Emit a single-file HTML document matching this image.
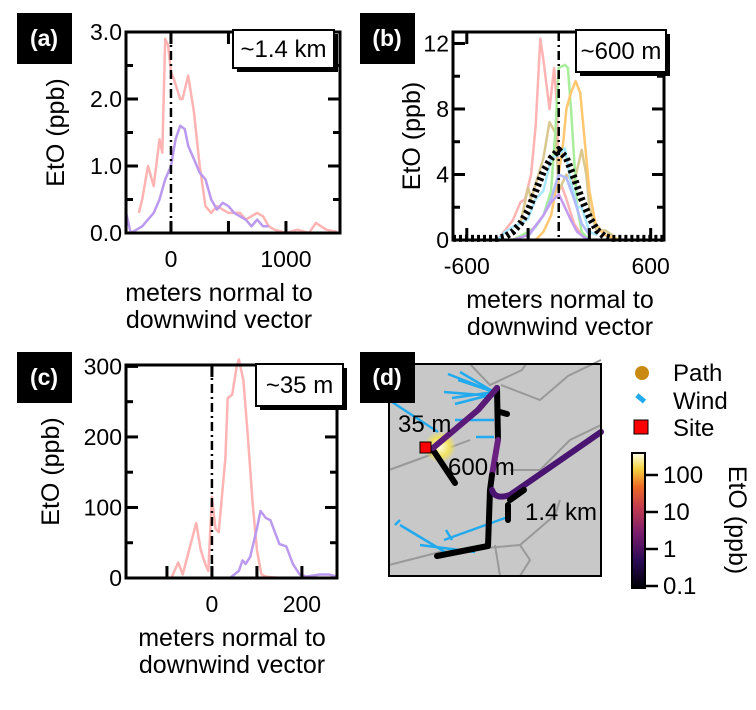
<!DOCTYPE html>
<html><head><meta charset="utf-8"><style>
body{margin:0;background:#fff;}
svg{display:block;font-family:"Liberation Sans",Arial,sans-serif;}
</style></head><body>
<svg id="fig" width="756" height="710" viewBox="0 0 756 710"></svg>
<script>
// ---- data panel (a) ----
const aPinkX=[-280,-250,-200,-150,-100,-75,-50,-25,0,25,80,100,150,200,250,300,350,400,500,600,650,750,800,850,900,1000,1100,1200,1260,1350,1440];
const aPinkY=[0.3,0.5,1.0,0.7,1.4,1.2,2.9,2.8,2.4,2.3,2.0,2.0,2.35,1.8,1.0,0.4,0.3,0.4,0.3,0.3,0.2,0.3,0.25,0.1,0.05,0.0,0.05,0.0,0.15,0.05,0.02];
const aPurpX=[-390,-350,-300,-250,-200,-150,-100,-50,0,40,80,120,150,200,250,300,350,400,450,500,550,600,650,700,750,800,850];
const aPurpY=[0.3,0.0,0.05,0.1,0.2,0.3,0.5,0.8,1.0,1.4,1.6,1.55,1.3,1.1,0.9,0.8,0.5,0.35,0.45,0.4,0.3,0.25,0.2,0.1,0.2,0.1,0.1];
const aYTicks=[0,1,2,3], aYLabels=["0.0","1.0","2.0","3.0"], aXTicks=[0,500,1000], aXLabels=["0","","1000"];
// ---- data panel (b) ----
const bPinkX=[-400,-300,-250,-220,-180,-150,-120,-100,-60,-30,-10,0,20,50,100,150,200];
const bPinkY=[0,1.2,2.3,2.5,4,7,12.3,11,8,10.5,8,3,3.3,2.5,1,0.3,0];
const bGreenX=[-300,-200,-150,-100,-50,-20,0,40,60,80,100,120,150,200];
const bGreenY=[0,0.5,0.8,1.5,3,7,10.5,10.7,10.5,8,5,2,0.5,0];
const bOrangeX=[-150,-100,-50,0,30,50,80,110,140,170,200,240,300,400];
const bOrangeY=[0,0.5,1.5,4,6,8,9,9.7,9,6,3,1,0.3,0];
const bTanX=[-250,-200,-180,-100,-60,-20,0,50,100,150,180,200,250,300,350];
const bTanY=[1,3.2,2.5,5,7.2,6.5,3,4,3.5,5.5,4,2,0.5,0.6,0.3];
const bCyanX=[-400,-350,-300,-250,-200,-150,-100,-50,0,40,80,120,150,200,250];
const bCyanY=[0,0.5,0.8,1,1.3,2.5,3,5,5.2,5.6,3.5,2,2,0.5,0.3];
const bBlueX=[-200,-100,-50,0,50,100,150,200];
const bBlueY=[0.2,1.5,2.5,4,3.8,2.5,1,0.3];
const bPurpX=[-300,-200,-100,-50,0,40,80,120,160,200];
const bPurpY=[0,0.3,1.5,2.3,2.8,2,1.2,0.5,0.2,0];
const bMeanX=[-690,-400,-350,-300,-250,-200,-150,-100,-50,0,50,100,150,200,250,300,350,690];
const bMeanY=[0.1,0.1,0.2,0.5,1.0,1.8,3.0,4.2,5.0,5.5,5.0,3.8,2.5,1.4,0.6,0.2,0.1,0.1];
const bYTicks=[0,4,8,12], bXTicks=[-600,600];
// ---- data panel (c) ----
const cPinkX=[-190,-90,-75,-65,-35,-25,-15,-8,0,8,15,30,35,45,55,60,70,80,90,100,110,120,150,278];
const cPinkY=[0,0,22,5,78,40,20,10,115,70,65,170,255,260,300,310,280,200,110,40,5,2,0,0];
const cPurpX=[40,60,68,75,85,100,108,120,130,140,150,165,180,195,210,240,260,278];
const cPurpY=[0,10,25,20,30,70,95,85,82,65,48,45,20,5,2,5,5,2];
const cYTicks=[0,100,200,300], cXTicks=[0,200];
// ---- colorbar ----
const cbTicks=[0.1,1,10,100];

const NS="http://www.w3.org/2000/svg";
const svg=document.getElementById('fig');
function el(tag,attrs,parent){const e=document.createElementNS(NS,tag);for(const k in attrs)e.setAttribute(k,attrs[k]);(parent||svg).appendChild(e);return e;}
function txt(s,attrs,parent){const e=el('text',attrs,parent);e.textContent=s;return e;}

function panel(p){
  const g=el('g',{});
  
  
  const sx=v=>p.x0+(v-p.xmin)/(p.xmax-p.xmin)*(p.x1-p.x0);
  const sy=v=>p.y1-(v-p.ymin)/(p.ymax-p.ymin)*(p.y1-p.y0);
  p.series.forEach(s=>{
    const d=s.x.map((v,i)=>(i?'L':'M')+sx(v).toFixed(1)+','+sy(s.y[i]).toFixed(1)).join('');
    const path=el('path',{d:d,fill:'none',stroke:s.c,'stroke-width':s.w||2.5,'stroke-dasharray':s.dash||'none','stroke-linejoin':'round'},g);
    
    
  });
  const zl=el('line',{x1:sx(0),x2:sx(0),y1:p.y0,y2:p.y1,stroke:'#000','stroke-width':2.5,'stroke-dasharray':'9,4,2,4'},g);
  
  
  const box=el('rect',{x:p.x0,y:p.y0,width:p.x1-p.x0,height:p.y1-p.y0,fill:'none',stroke:'#000','stroke-width':3},g);
  
  
  p.yt.forEach((v,i)=>{
    const y=sy(v);
    el('line',{x1:p.x0,x2:p.x0+12,y1:y,y2:y,stroke:'#000','stroke-width':3},g);
    el('line',{x1:p.x1,x2:p.x1-12,y1:y,y2:y,stroke:'#000','stroke-width':3},g);
    if(i<p.yt.length-1){const ym=sy((v+p.yt[i+1])/2);
      el('line',{x1:p.x0,x2:p.x0+7,y1:ym,y2:ym,stroke:'#000','stroke-width':3},g);
      el('line',{x1:p.x1,x2:p.x1-7,y1:ym,y2:ym,stroke:'#000','stroke-width':3},g);}
    const t=txt(p.yl?p.yl[i]:String(v),{x:p.x0-4,y:y+8,'text-anchor':'end','font-size':23},g);
    
    
  });
  p.xt.forEach((v,i)=>{
    const x=sx(v);
    el('line',{x1:x,x2:x,y1:p.y1,y2:p.y1-12,stroke:'#000','stroke-width':3},g);
    el('line',{x1:x,x2:x,y1:p.y0,y2:p.y0+12,stroke:'#000','stroke-width':3},g);
    const lab=p.xl?p.xl[i]:String(v);
    if(lab){const t=txt(lab,{x:x,y:p.y1+34,'text-anchor':'middle','font-size':23},g);
      
      }
  });
  (p.xminor||[]).forEach(v=>{const x=sx(v);el('line',{x1:x,x2:x,y1:p.y1,y2:p.y1-12,stroke:'#000','stroke-width':3},g);});
  const lb=p.lbox;
  el('rect',{x:lb[0]+4,y:lb[1]+4,width:lb[2],height:lb[3],fill:'#000'},g);
  const r=el('rect',{x:lb[0],y:lb[1],width:lb[2],height:lb[3],fill:'#fff',stroke:'#000','stroke-width':2},g);
  
  
  txt(p.ltxt,{x:lb[0]+lb[2]/2,y:lb[1]+lb[3]/2+8,'text-anchor':'middle','font-size':24},g);
  el('rect',{x:p.tag[0],y:p.tag[1],width:55,height:51,fill:'#000'},g);
  const tg=txt(p.tagt,{x:p.tag[0]+27,y:p.tag[1]+33,'text-anchor':'middle','font-size':23,'font-weight':'bold',fill:'#fff'},g);
  
  
  const cy=(p.y0+p.y1)/2;
  const yt=txt('EtO (ppb)',{x:0,y:0,'text-anchor':'middle','font-size':25,transform:`translate(${p.ytx},${cy}) rotate(-90)`},g);
  
  
  const xc=p.xtc;
  const x1=txt('meters normal to',{x:xc,y:p.y1+68,'text-anchor':'middle','font-size':25},g);
  
  
  txt('downwind vector',{x:xc,y:p.y1+95,'text-anchor':'middle','font-size':25},g);
}

panel({name:'panel-a',x0:126,x1:340,y0:32,y1:233,xmin:-391,xmax:1470,ymin:0,ymax:3.0,
  yt:aYTicks,yl:aYLabels,xt:aXTicks,xl:aXLabels,lbox:[233,30,101,38],ltxt:'~1.4 km',tag:[17,13],tagt:'(a)',ytx:64,xtc:219,
  series:[{x:aPinkX,y:aPinkY,c:'#ffb3b3',n:'series-pink'},{x:aPurpX,y:aPurpY,c:'#bb99ee',n:'series-purple'}]});
panel({name:'panel-b',x0:453,x1:664,y0:32,y1:240,xmin:-690,xmax:687,ymin:0,ymax:12.7,
  yt:bYTicks,xt:bXTicks,xminor:[-200,200],lbox:[576,30,90,42],ltxt:'~600 m',tag:[360,13],tagt:'(b)',ytx:420,xtc:560,
  series:[{x:bPinkX,y:bPinkY,c:'#ffb3b3',n:'series-pink'},{x:bTanX,y:bTanY,c:'#d8c890',n:'series-tan'},
  {x:bGreenX,y:bGreenY,c:'#a8ee9a',n:'series-green'},{x:bOrangeX,y:bOrangeY,c:'#ffc870',n:'series-orange'},
  {x:bCyanX,y:bCyanY,c:'#a8e8ff',n:'series-cyan'},{x:bBlueX,y:bBlueY,c:'#b0b8ff',n:'series-blue'},
  {x:bPurpX,y:bPurpY,c:'#c39cf0',n:'series-purple'},{x:bMeanX,y:bMeanY,c:'#000',w:7,dash:'3,3',n:'series-mean'}]});
panel({name:'panel-c',x0:126,x1:337,y0:365,y1:578,xmin:-191,xmax:278,ymin:0,ymax:302,
  yt:cYTicks,xt:cXTicks,xminor:[-100,100],lbox:[256,364,87,42],ltxt:'~35 m',tag:[17,352],tagt:'(c)',ytx:59,xtc:232,
  series:[{x:cPinkX,y:cPinkY,c:'#ffb3b3',n:'series-pink'},{x:cPurpX,y:cPurpY,c:'#bb99ee',n:'series-purple'}]});

// ---- map panel (d) ----
const m=el('g',{});


el('rect',{x:389,y:364,width:212,height:212,fill:'#c8c8c8'},m);
const defs=el('defs',{},m);
const rg=el('radialGradient',{id:'glow'},defs);
el('stop',{offset:'0','stop-color':'#ffffe0'},rg);el('stop',{offset:'0.6','stop-color':'#f0e060'},rg);el('stop',{offset:'1','stop-color':'#f0e060','stop-opacity':'0'},rg);
const lg=el('linearGradient',{id:'cb',x1:0,y1:1,x2:0,y2:0},defs);
[['0','#000004'],['0.2','#2a0a55'],['0.4','#781c6d'],['0.6','#c43c4e'],['0.75','#ed6925'],['0.88','#f4d03f'],['1','#fcffe4']].forEach(s=>el('stop',{offset:s[0],'stop-color':s[1]},lg));
['M470,364 L490,385 L522,370 L526,364','M389,470 L430,455 L470,440','M501,385 L540,400 L568,376 L601,360','M510,470 L540,470 L570,440 L601,425',
 'M389,565 L440,552 L520,545 L555,515 L560,500','M495,545 L500,576','M520,545 L530,560 L520,576'].forEach(d=>{
  const r=el('path',{d:d,fill:'none',stroke:'#999','stroke-width':2},m);
  
  });
['M455,404 L494,394','M452,398 L494,392','M458,380 L494,392','M448,374 L494,392','M460,372 L494,392','M444,392 L494,396','M392,402 L438,432','M455,420 L494,420',
 'M476,437 L494,437','M400,525 L450,555','M420,545 L475,552','M444,540 L505,518','M395,525 L400,520','M446,530 L452,540'].forEach(d=>{
  const w=el('path',{d:d,fill:'none',stroke:'#22aaee','stroke-width':2.5},m);
  
  });
el('circle',{cx:440,cy:447,r:16,fill:'url(#glow)'},m);
[['M433,450 L455,483','#000'],['M497,388 L498,440','#000'],['M498,440 L492,475','#6a2080'],['M492,475 L490,490 L488,546','#000'],
 ['M488,546 L437,556','#000'],['M433,448 L478,410 L497,388','#5a1a78'],['M492,490 Q495,500 510,495 L601,432','#4a1570'],['M510,500 L524,490','#000'],['M508,505 L508,520','#000'],['M500,412 L507,414','#000']].forEach(s=>{
  const p=el('path',{d:s[0],fill:'none',stroke:s[1],'stroke-width':6,'stroke-linecap':'round','stroke-linejoin':'round'},m);
  
  });
const site=el('rect',{x:420,y:442,width:11,height:11,fill:'#f00',stroke:'#000','stroke-width':1},m);


el('rect',{x:389,y:364,width:212,height:212,fill:'none',stroke:'#000','stroke-width':2},m);
el('rect',{x:360,y:352,width:55,height:51,fill:'#000'},m);
txt('(d)',{x:387,y:385,'text-anchor':'middle','font-size':23,'font-weight':'bold',fill:'#fff'},m);
txt('35 m',{x:398,y:432,'font-size':24},m);
txt('600 m',{x:448,y:475,'font-size':24},m);
txt('1.4 km',{x:525,y:520,'font-size':24},m);
const lgd=el('g',{});


el('circle',{cx:642,cy:373,r:7,fill:'#c88a10'},lgd);
txt('Path',{x:673,y:381,'font-size':24},lgd);
el('rect',{x:636,y:396,width:10,height:5,fill:'#22aaee',transform:'rotate(40 641 398)'},lgd);
txt('Wind',{x:673,y:409,'font-size':24},lgd);
el('rect',{x:634,y:420,width:14,height:14,fill:'#f00',stroke:'#000','stroke-width':1},lgd);
txt('Site',{x:673,y:436,'font-size':24},lgd);
const cbg=el('g',{});


el('rect',{x:632,y:453,width:13,height:135,fill:'url(#cb)',stroke:'#000','stroke-width':2},cbg);
const cbY=v=>586-(Math.log10(v)+1)*37;
cbTicks.forEach(v=>{const y=cbY(v);el('line',{x1:645,x2:658,y1:y,y2:y,stroke:'#000','stroke-width':2.5},cbg);
  txt(String(v),{x:663,y:y+8,'font-size':24},cbg);});
txt('EtO (ppb)',{x:0,y:0,'text-anchor':'middle','font-size':25,transform:'translate(729,520) rotate(90)'},cbg);
</script>
</body></html>
